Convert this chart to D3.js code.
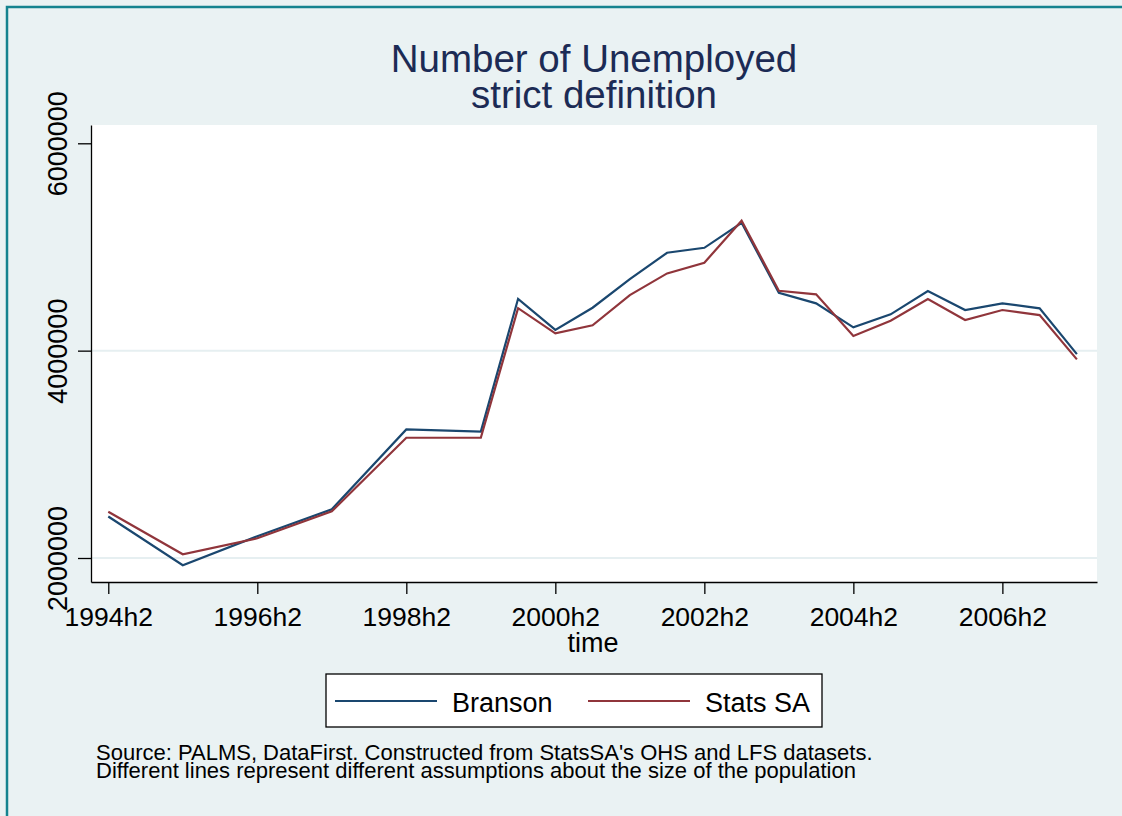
<!DOCTYPE html>
<html>
<head>
<meta charset="utf-8">
<script src="https://cdn.jsdelivr.net/npm/d3@7"></script>
<style>
  body { margin: 0; background: #eaf2f3; }
  svg { display: block; font-family: "Liberation Sans", Arial, sans-serif; }
</style>
</head>
<body>
<svg id="canvas" width="1122" height="816"></svg>
<script>
// half-year periods and the two unemployment series
var periods = ["1994h2", "1995h2", "1996h2", "1997h2", "1998h2", "1999h2",
    "2000h1", "2000h2", "2001h1", "2001h2", "2002h1", "2002h2",
    "2003h1", "2003h2", "2004h1", "2004h2", "2005h1", "2005h2",
    "2006h1", "2006h2", "2007h1", "2007h2"];
var branson = [2400000, 1930000, 2210000, 2470000, 3240000, 3220000,
    4500000, 4200000, 4414000, 4690000, 4944000, 4992000,
    5233000, 4558000, 4456000, 4225000, 4350000, 4575000,
    4392000, 4456000, 4408000, 3967000];
var statsSA = [2446000, 2036000, 2190000, 2450000, 3160000, 3160000,
    4410000, 4167000, 4244000, 4536000, 4745000, 4848000,
    5253000, 4578000, 4543000, 4141000, 4288000, 4498000,
    4295000, 4392000, 4343000, 3916000];
var seriesNames = ["Branson", "Stats SA"];
var seriesColors = ["#1a476f", "#90353b"];
var xTickLabels = ["1994h2", "1996h2", "1998h2", "2000h2", "2002h2", "2004h2", "2006h2"];
var yTicks = [2000000, 4000000, 6000000];
var gridTicks = [2000000, 4000000];

(function () {
    // period label -> half-year index counted from 1994h2
    function halfIndex(p) {
        return (+p.slice(0, 4) - 1994) * 2 + (+p.slice(5) - 2);
    }

    var left = 91, top = 125, width = 1006, height = 457;
    var svg = d3.select("#canvas");

    // graph region + border (the picture is cropped on the right and bottom)
    svg.append("rect")
        .attr("x", 7).attr("y", 7).attr("width", 1130).attr("height", 830)
        .attr("fill", "#eaf2f3").attr("stroke", "#14838f").attr("stroke-width", 2.5);

    // title
    svg.append("text").attr("x", 594).attr("y", 72)
        .attr("text-anchor", "middle").attr("font-size", 38.5).attr("fill", "#1c2b55")
        .text("Number of Unemployed");
    svg.append("text").attr("x", 594).attr("y", 108)
        .attr("text-anchor", "middle").attr("font-size", 38.5).attr("fill", "#1c2b55")
        .text("strict definition");

    var chart = svg.append("g").attr("transform", `translate(${left}, ${top})`);

    chart.append("rect").attr("width", width).attr("height", height).attr("fill", "#fff");

    var x = d3.scaleLinear().domain([-0.464, 26.54]).range([0, width]);
    var y = d3.scaleLinear().domain([1768500, 6176500]).range([height, 0]);

    // gridlines
    chart.append("g").selectAll("line")
        .data(gridTicks)
        .join("line")
        .attr("x1", 0).attr("x2", width)
        .attr("y1", d => y(d)).attr("y2", d => y(d))
        .attr("stroke", "#e6eff1").attr("stroke-width", 2);

    // lines
    var line = d3.line()
        .x((d, i) => x(halfIndex(periods[i])))
        .y(d => y(d));

    chart.append("g").selectAll("path")
        .data([branson, statsSA])
        .join("path")
        .attr("d", d => line(d))
        .attr("fill", "none")
        .attr("stroke", (d, i) => seriesColors[i])
        .attr("stroke-width", 2.2)
        .attr("stroke-linejoin", "miter");

    // x axis
    var xAxis = chart.append("g")
        .attr("transform", `translate(0, ${height})`)
        .call(d3.axisBottom(x)
            .tickValues(xTickLabels.map(halfIndex))
            .tickFormat((d, i) => xTickLabels[i])
            .tickSize(12).tickSizeOuter(0));
    xAxis.select(".domain").attr("stroke", "#000").attr("stroke-width", 1.3);
    xAxis.selectAll(".tick line").attr("stroke", "#000").attr("stroke-width", 1.3);
    xAxis.selectAll("text")
        .attr("y", 44).attr("dy", 0)
        .attr("font-size", 26.5).attr("fill", "#000");

    // y axis, labels turned vertical
    var yAxis = chart.append("g")
        .call(d3.axisLeft(y).tickValues(yTicks).tickFormat(d3.format("d"))
            .tickSize(13).tickSizeOuter(0));
    yAxis.select(".domain").attr("stroke", "#000").attr("stroke-width", 1.3);
    yAxis.selectAll(".tick line").attr("stroke", "#000").attr("stroke-width", 1.3);
    yAxis.selectAll("text")
        .attr("transform", "rotate(-90)")
        .attr("x", 0).attr("y", -24).attr("dy", 0)
        .attr("text-anchor", "middle")
        .attr("font-size", 27).attr("fill", "#000");

    // x axis title
    svg.append("text").attr("x", 593).attr("y", 652)
        .attr("text-anchor", "middle").attr("font-size", 27)
        .text("time");

    // legend
    var legend = svg.append("g").attr("transform", "translate(326, 674)");
    legend.append("rect").attr("width", 496).attr("height", 53)
        .attr("fill", "#fff").attr("stroke", "#000").attr("stroke-width", 1.3);
    var items = legend.selectAll("g.item")
        .data(seriesNames)
        .join("g")
        .attr("class", "item")
        .attr("transform", (d, i) => `translate(${9 + i * 253}, 0)`);
    items.append("line")
        .attr("x1", 0).attr("x2", 102).attr("y1", 27).attr("y2", 27)
        .attr("stroke", (d, i) => seriesColors[i]).attr("stroke-width", 2.2);
    items.append("text")
        .attr("x", 117).attr("y", 37.5)
        .attr("font-size", 27)
        .text(d => d);

    // note
    var notes = ["Source: PALMS, DataFirst. Constructed from StatsSA's OHS and LFS datasets.",
        "Different lines represent different assumptions about the size of the population"];
    svg.append("g").selectAll("text")
        .data(notes)
        .join("text")
        .attr("x", 96).attr("y", (d, i) => 760 + i * 18)
        .attr("font-size", 22)
        .text(d => d);
})();
</script>
</body>
</html>
